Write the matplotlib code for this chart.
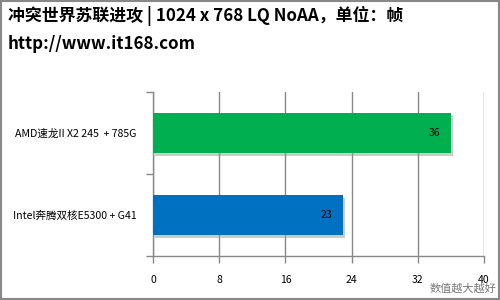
import matplotlib.pyplot as plt
from matplotlib.patches import Rectangle
import matplotlib.patheffects as pe

plt.rcParams['font.family'] = ['Noto Sans CJK SC', 'DejaVu Sans']

title1 = "冲突世界苏联进攻 | 1024 x 768 LQ NoAA，单位：帧"
title2 = "http://www.it168.com"
categories = ["Intel奔腾双核E5300 + G41", "AMD速龙II X2 245  + 785G"]
values = [23, 36]
colors = ["#0070C0", "#00B050"]
xticks = [0, 8, 16, 24, 32, 40]
footer = "数值越大越好"

fig = plt.figure(figsize=(5, 3), dpi=100)
W, H = 500, 300
ax = fig.add_axes([153 / W, 1 - 256 / H, (484 - 153) / W, (256 - 92) / H])

bars = ax.barh(range(len(values)), values, height=0.49, color=colors, zorder=3,
               path_effects=[pe.SimplePatchShadow(offset=(1.5, -2), shadow_rgbFace='#999999', alpha=0.5),
                             pe.Normal()])
for i, v in enumerate(values):
    ax.text(v - 1.3, i, str(v), ha='right', va='center', fontsize=7.5, color='black', zorder=4)

ax.set_xlim(0, 40)
ax.set_ylim(-0.5, len(values) - 0.5)
ax.set_xticks(xticks)
ax.set_xticklabels([str(t) for t in xticks], fontsize=7.5)
ax.set_yticks(range(len(categories)))
ax.set_yticklabels(categories, fontsize=7.6)
ax.set_yticks([-0.5, 0.5, 1.5], minor=True)
ax.tick_params(axis='y', which='major', length=0, pad=12)
ax.tick_params(axis='y', which='minor', length=5, color='#888888', width=1)
ax.tick_params(axis='x', length=5, color='#888888', width=1, direction='out', pad=9)
ax.grid(axis='x', color='#888888', linewidth=1, zorder=0)
for s in ['top', 'right']:
    ax.spines[s].set_visible(False)
for s in ['left', 'bottom']:
    ax.spines[s].set_color('#888888')
    ax.spines[s].set_linewidth(1)

fig.text(8 / W, 1 - 16 / H, title1, fontsize=12.2, fontweight='bold', va='center', ha='left')
fig.text(8 / W, 1 - 44 / H, title2, fontsize=12.2, fontweight='bold', va='center', ha='left')
fig.text(496 / W, 1 - 289 / H, footer, fontsize=8, color='#777777', va='center', ha='right')

fig.patches.append(Rectangle((0.001, 0.002), 0.997, 0.995, transform=fig.transFigure,
                             fill=False, edgecolor='#888888', linewidth=1.5))

fig.savefig("out.png", dpi=100)
